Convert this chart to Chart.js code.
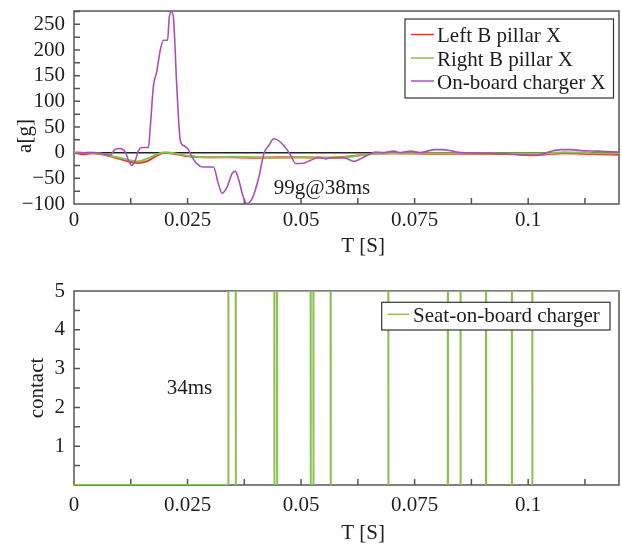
<!DOCTYPE html>
<html>
<head>
<meta charset="utf-8">
<script src="https://cdn.jsdelivr.net/npm/chart.js@4.4.1/dist/chart.umd.min.js"></script>
<style>
  body { margin: 0; background: #fff; }
  canvas { display: block; }
</style>
</head>
<body>
<canvas id="accelChart" width="622" height="270"></canvas>
<canvas id="contactChart" width="622" height="275"></canvas>
<script>
// time in seconds, acceleration in g
const pillarT = [0, 0.002, 0.004, 0.006, 0.008, 0.010, 0.012, 0.014, 0.016, 0.018,
  0.020, 0.022, 0.025, 0.030, 0.035, 0.040, 0.045, 0.050, 0.055, 0.060,
  0.063, 0.066, 0.070, 0.080, 0.090, 0.098, 0.101, 0.104, 0.108, 0.112,
  0.116, 0.12];
const leftPillarA = [0, -3, -1, -3, -7, -12, -17, -20, -17, -7,
  0, -2, -7, -9, -9, -10, -9, -9, -10, -8,
  -5, -2, -1, -2, -2, -3, -5, -3, -1, -2,
  -3, -4];
const rightPillarA = [1, 0, 0, -2, -6, -10, -14, -17, -12, -4,
  1, -1, -6, -9, -8, -9, -10, -9, -10, -9,
  -5, -2, -1, -1, -1, -1, -1, -1, 1, 0,
  -1, -1];

const chargerT = [0, 0.0035, 0.0065, 0.0079, 0.009, 0.0101, 0.0113, 0.012, 0.0127, 0.0135,
  0.0142, 0.0149, 0.0164, 0.0168, 0.0175, 0.0182, 0.019, 0.0197, 0.0206, 0.021,
  0.0215, 0.0219, 0.0226, 0.0234, 0.0241, 0.0252, 0.0256, 0.027, 0.0285, 0.0307,
  0.0318, 0.0326, 0.0337, 0.0348, 0.0355, 0.0362, 0.0373, 0.038, 0.0392, 0.0407,
  0.0418, 0.0429, 0.044, 0.0462, 0.0477, 0.0488, 0.0502, 0.0521, 0.0539, 0.0554,
  0.0568, 0.0587, 0.0602, 0.0616, 0.0631, 0.0646, 0.0664, 0.0682, 0.0704, 0.0719,
  0.0741, 0.0763, 0.0793, 0.0811, 0.0833, 0.0852, 0.0918, 0.0955, 0.0991, 0.1021,
  0.1043, 0.1072, 0.1094, 0.1116, 0.1153, 0.12];
const chargerA = [-1, 0, -2, -5, 6, 8, 1, -15, -25, -15,
  4, 10, 10, 50, 131, 157, 200, 219, 219, 265,
  274, 262, 135, 24, 14, 6, -2, -21, -28, -28,
  -61, -79, -67, -41, -36, -51, -87, -99, -90, -48,
  -2, 14, 27, 14, -5, -21, -21, -15, -9, -12,
  -10, -10, -12, -17, -12, -5, 1, 0, 3, 0,
  3, 0, 6, 6, 3, 0, -1, -2, -5, -5,
  1, 6, 6, 4, 3, 1];

// seat / charger contact signal: goes high at 34 ms, then brief dropouts
const contactHigh = 5;
const contactRise = 0.034;
const dropStart = [0.0356, 0.0441, 0.0447, 0.0521, 0.0527, 0.0565, 0.0692, 0.0823, 0.0851, 0.0907, 0.0964, 0.1009];
const dropEnd   = [0.03565, 0.04415, 0.04475, 0.05215, 0.05275, 0.05655, 0.06925, 0.08235, 0.08515, 0.09075, 0.09645, 0.10095];
const contactEnd = 0.12;

// tick labels
const timeTicks = [0, 0.025, 0.05, 0.075, 0.1];
const accelTicks = [-100, -50, 0, 50, 100, 150, 200, 250];
const contactTicks = [1, 2, 3, 4, 5];

const FONT = '"Liberation Serif", "Times New Roman", serif';
const TEXT = '#1e1e1e';
const AXIS = '#555';
Chart.defaults.font.family = FONT;
Chart.defaults.font.size = 21;
Chart.defaults.color = TEXT;
Chart.defaults.animation = false;

const pts = (xs, ys) => xs.map((x, i) => ({ x: x, y: ys[i] }));
const fmt = (v) => String(v).replace('-', '\u2212');

// frame, inward ticks, titles, legend and notes
const decor = {
  id: 'decor',
  beforeDatasetsDraw(chart, args, o) {
    const { ctx, chartArea: a, scales: { x, y } } = chart;
    ctx.save();
    if (o.zeroLine) {
      const y0 = y.getPixelForValue(0);
      ctx.strokeStyle = '#222';
      ctx.lineWidth = 1.5;
      ctx.beginPath();
      ctx.moveTo(a.left, y0);
      ctx.lineTo(a.right, y0);
      ctx.stroke();
    }
    ctx.strokeStyle = AXIS;
    ctx.lineWidth = 1.5;
    ctx.strokeRect(a.left, a.top, a.right - a.left, a.bottom - a.top);
    ctx.beginPath();
    for (let i = 1; x.min + i * o.xStep <= x.max + 1e-9; i++) {
      const px = x.getPixelForValue(x.min + i * o.xStep);
      ctx.moveTo(px, a.bottom);
      ctx.lineTo(px, a.bottom - 6);
    }
    for (let i = 1; y.min + i * o.yStep < y.max - 1e-9; i++) {
      const py = y.getPixelForValue(y.min + i * o.yStep);
      ctx.moveTo(a.left, py);
      ctx.lineTo(a.left + 6, py);
    }
    ctx.stroke();
    ctx.restore();
  },
  afterDraw(chart, args, o) {
    const { ctx, scales: { x, y } } = chart;
    ctx.save();
    ctx.fillStyle = TEXT;
    ctx.font = '21px ' + FONT;
    ctx.textAlign = 'center';
    ctx.textBaseline = 'middle';
    ctx.fillText(o.xTitle.text, o.xTitle.x, o.xTitle.y);
    ctx.save();
    ctx.translate(o.yTitle.x, o.yTitle.y);
    ctx.rotate(-Math.PI / 2);
    ctx.fillText(o.yTitle.text, 0, 0);
    ctx.restore();

    // notes anchored in data space
    ctx.textAlign = 'left';
    ctx.textBaseline = 'alphabetic';
    (o.notes || []).forEach((n) => {
      ctx.fillText(n.text, x.getPixelForValue(n.t), y.getPixelForValue(n.v));
    });

    // legend box
    const L = o.legend;
    ctx.fillStyle = '#fff';
    ctx.fillRect(L.x, L.y, L.w, L.h);
    ctx.strokeStyle = '#333';
    ctx.lineWidth = 1.2;
    ctx.strokeRect(L.x, L.y, L.w, L.h);
    chart.data.datasets.forEach((ds, i) => {
      const ry = L.rows[i];
      ctx.strokeStyle = ds.borderColor;
      ctx.lineWidth = 1.5;
      ctx.beginPath();
      ctx.moveTo(L.x0, ry);
      ctx.lineTo(L.x1, ry);
      ctx.stroke();
      ctx.fillStyle = TEXT;
      ctx.fillText(ds.label, L.tx, ry + 7.5);
    });
    ctx.restore();
  }
};

function timeAxis(padding, height) {
  return {
    type: 'linear',
    min: 0,
    max: 0.12,
    grid: { display: false, drawTicks: false },
    border: { display: false },
    ticks: { padding: padding, maxRotation: 0, autoSkip: false, callback: fmt },
    afterBuildTicks: (s) => { s.ticks = timeTicks.map((v) => ({ value: v })); },
    afterFit: (s) => { s.height = height; s.paddingLeft = 0; s.paddingRight = 0; }
  };
}

function valueAxis(min, max, ticks, hideZero) {
  return {
    type: 'linear',
    min: min,
    max: max,
    grid: { display: false, drawTicks: false },
    border: { display: false },
    ticks: { padding: 9, autoSkip: false, callback: (v) => (hideZero && v === 0 ? '' : fmt(v)) },
    afterBuildTicks: (s) => { s.ticks = ticks.map((v) => ({ value: v })); },
    afterFit: (s) => { s.width = 74; s.paddingTop = 0; s.paddingBottom = 0; }
  };
}

// acceleration chart
new Chart(document.getElementById('accelChart'), {
  type: 'line',
  data: {
    datasets: [
      { label: 'Left B pillar X', data: pts(pillarT, leftPillarA), borderColor: '#e53b2c', borderWidth: 2, order: 3 },
      { label: 'Right B pillar X', data: pts(pillarT, rightPillarA), borderColor: '#8cc152', borderWidth: 2, order: 2 },
      { label: 'On-board charger X', data: pts(chargerT, chargerA), borderColor: '#a653b3', borderWidth: 1.6, order: 1 }
    ]
  },
  options: {
    responsive: false,
    parsing: false,
    layout: { padding: { top: 11, right: 3, left: 0, bottom: 0 } },
    elements: {
      point: { radius: 0 },
      line: { cubicInterpolationMode: 'monotone', fill: false }
    },
    scales: {
      x: timeAxis(4, 66),
      y: valueAxis(-100, 276, accelTicks, false)
    },
    plugins: {
      legend: { display: false },
      tooltip: { enabled: false },
      decor: {
        zeroLine: true,
        xStep: 0.0125,
        yStep: 25,
        xTitle: { text: 'T [S]', x: 363, y: 246 },
        yTitle: { text: 'a[g]', x: 25, y: 136 },
        notes: [{ text: '99g@38ms', t: 0.044, v: -80 }],
        legend: { x: 405, y: 19, w: 208.5, h: 79, rows: [34.5, 58, 81], x0: 411, x1: 434, tx: 437 }
      }
    }
  },
  plugins: [decor]
});

// contact chart
const contactData = [{ x: 0, y: 0 }, { x: contactRise, y: 0 }, { x: contactRise, y: contactHigh }];
dropStart.forEach((t, i) => {
  contactData.push({ x: t, y: contactHigh }, { x: t, y: 0 }, { x: dropEnd[i], y: 0 }, { x: dropEnd[i], y: contactHigh });
});
contactData.push({ x: contactEnd, y: contactHigh });

new Chart(document.getElementById('contactChart'), {
  type: 'line',
  data: {
    datasets: [
      { label: 'Seat-on-board charger', data: contactData, borderColor: '#8cc152', borderWidth: 2 }
    ]
  },
  options: {
    responsive: false,
    parsing: false,
    layout: { padding: { top: 21, right: 3, left: 0, bottom: 0 } },
    elements: {
      point: { radius: 0 },
      line: { tension: 0, fill: false }
    },
    scales: {
      x: timeAxis(8, 60),
      y: valueAxis(0, 5, contactTicks, true)
    },
    plugins: {
      legend: { display: false },
      tooltip: { enabled: false },
      decor: {
        zeroLine: false,
        xStep: 0.0125,
        yStep: 0.5,
        xTitle: { text: 'T [S]', x: 363, y: 263 },
        yTitle: { text: 'contact', x: 37.5, y: 118 },
        notes: [{ text: '34ms', t: 0.0204, v: 2.34 }],
        legend: { x: 381.7, y: 32.3, w: 228.3, h: 27.7, rows: [44.3], x0: 388, x1: 409, tx: 413 }
      }
    }
  },
  plugins: [decor]
});
</script>
</body>
</html>
